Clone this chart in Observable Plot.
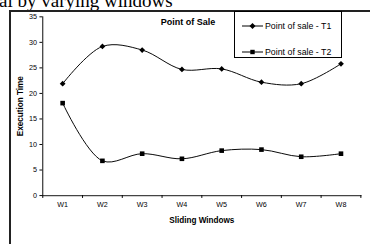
<!DOCTYPE html>
<html><head><meta charset="utf-8">
<script src="https://cdn.jsdelivr.net/npm/d3@7"></script>
<script src="https://cdn.jsdelivr.net/npm/@observablehq/plot@0.6"></script>
<style>
body{margin:0;width:370px;height:244px;overflow:hidden;position:relative;background:#fff;font-family:"Liberation Sans",Arial,sans-serif}
#cap{position:absolute;left:-1px;top:-9px;font:19px/19px "Liberation Serif","Times New Roman",serif;white-space:nowrap;color:#000}
#frame{position:absolute;left:9px;top:10px;width:420px;height:320px;border-left:2px solid #222;border-top:2px solid #222;box-sizing:border-box}
#chart{position:absolute;left:0;top:0}
#title{position:absolute;left:148px;top:17px;width:80px;text-align:center;font:bold 9px "Liberation Sans",Arial,sans-serif;white-space:nowrap}
#legend{position:absolute;left:234px;top:11px;width:108px;height:47px;border:1px solid #000;box-sizing:border-box;background:#fff}
.entry{position:absolute;left:7px;height:10px;font:8.8px/10px "Liberation Sans",Arial,sans-serif;white-space:nowrap}
.entry svg{vertical-align:top;margin-right:1px}
</style></head>
<body>
<div id="cap">al by varying windows</div>
<div id="frame"></div>
<div id="chart"></div>
<div id="title"></div>
<div id="legend"></div>
<script>
const categories = ["W1","W2","W3","W4","W5","W6","W7","W8"];
const seriesNames = ["Point of sale - T1","Point of sale - T2"];
const t1 = [21.9, 29.2, 28.5, 24.7, 24.8, 22.2, 21.9, 25.8];
const t2 = [18.1, 6.8, 8.2, 7.2, 8.8, 9.0, 7.6, 8.2];
const yTicks = [0,5,10,15,20,25,30,35];
const chartTitle = "Point of Sale";
const xLabel = "Sliding Windows";
const yLabel = "Execution Time";

const rows = [];
[t1, t2].forEach((vals, s) => vals.forEach((v, i) => rows.push({pos: i + 1, cat: categories[i], v, s: seriesNames[s]})));
const bounds = categories.map((c, i) => i + 0.5).concat([categories.length + 0.5]);

const plot = Plot.plot({
  width: 385, height: 244,
  marginLeft: 44, marginRight: 10, marginTop: 17, marginBottom: 41,
  style: {fontFamily: "'Liberation Sans', Arial, sans-serif", fontSize: "7.5px", background: "transparent", color: "#000"},
  x: {domain: [0.5, categories.length + 0.5]},
  y: {domain: [0, 35]},
  symbol: {domain: seriesNames, range: ["diamond2", "square"]},
  marks: [
    Plot.frame({anchor: "left", stroke: "#000"}),
    Plot.frame({anchor: "bottom", stroke: "#444", strokeWidth: 1.3}),
    Plot.axisY({ticks: yTicks, tickSize: 3, tickPadding: 3, label: null}),
    Plot.axisX({ticks: bounds, tickSize: 3, tickFormat: () => "", label: null}),
    Plot.axisX({ticks: categories.map((c, i) => i + 1), tickSize: 0, tickPadding: 7, tickFormat: d => categories[d - 1], label: null}),
    Plot.text([yLabel], {frameAnchor: "left", text: d => d, rotate: -90, dx: -23, textAnchor: "middle", fontWeight: "bold", fontSize: 8.5}),
    Plot.text([xLabel], {frameAnchor: "bottom", text: d => d, dy: 26, lineAnchor: "middle", fontWeight: "bold", fontSize: 8.5}),
    Plot.line(rows, {x: "pos", y: "v", z: "s", curve: "catmull-rom", stroke: "#000", strokeWidth: 1}),
    Plot.dot(rows, {x: "pos", y: "v", symbol: "s", fill: "#000", stroke: "none", r: 2.7})
  ]
});
document.getElementById("chart").appendChild(plot);
document.getElementById("title").textContent = chartTitle;

const legend = document.getElementById("legend");
const shapes = ['<path d="M10.5,2 L13.5,5 L10.5,8 L7.5,5 Z" fill="#000"/>', '<rect x="8.3" y="2.8" width="4.4" height="4.4" fill="#000"/>'];
seriesNames.forEach((name, i) => {
  const e = document.createElement("div");
  e.className = "entry";
  e.style.top = (i === 0 ? 9 : 35) + "px";
  e.innerHTML = '<svg width="22" height="10"><line x1="0" x2="21" y1="5" y2="5" stroke="#000" stroke-width="1"/>' + shapes[i] + '</svg>';
  const sp = document.createElement("span");
  sp.textContent = name;
  e.appendChild(sp);
  legend.appendChild(e);
});
</script>
</body></html>
